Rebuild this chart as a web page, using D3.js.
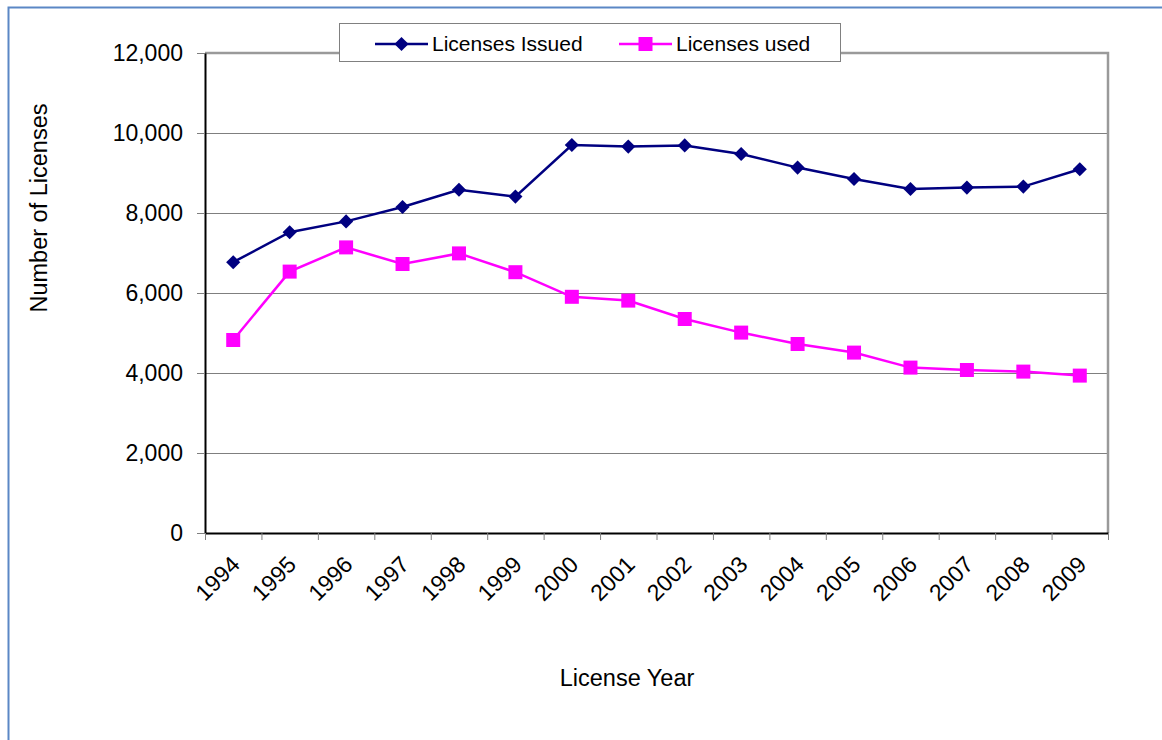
<!DOCTYPE html>
<html>
<head>
<meta charset="utf-8">
<script src="https://cdn.jsdelivr.net/npm/d3@7"></script>
<style>
  html, body { margin: 0; padding: 0; background: #fff; }
  svg { display: block; font-family: "Liberation Sans", Arial, sans-serif; }
</style>
</head>
<body>
<svg id="chart" width="1162" height="740"></svg>
<script>
// License years and counts
const years = ["1994","1995","1996","1997","1998","1999","2000","2001","2002","2003","2004","2005","2006","2007","2008","2009"];
const licensesIssued = [6770, 7520, 7790, 8150, 8580, 8410, 9700, 9660, 9690, 9475, 9135, 8850, 8600, 8635, 8660, 9095];
const licensesUsed   = [4825, 6535, 7140, 6725, 6990, 6520, 5905, 5810, 5350, 5010, 4725, 4510, 4135, 4075, 4035, 3935];
const yTicks = [0, 2000, 4000, 6000, 8000, 10000, 12000];
const seriesNames = ["Licenses Issued", "Licenses used"];

const svg = d3.select("#chart");
const plot = { left: 205, right: 1108, top: 53, bottom: 533 };

// Outer frame
svg.append("path")
  .attr("d", "M8.5,740 L8.5,7.5 L1162,7.5")
  .attr("fill", "none")
  .attr("stroke", "#5B87C5")
  .attr("stroke-width", 2);

const x = d3.scaleBand().domain(years).range([plot.left, plot.right]).padding(0);
const y = d3.scaleLinear().domain([0, 12000]).range([plot.bottom, plot.top]);
const xEdge = d3.scaleLinear().domain([0, years.length]).range([plot.left, plot.right]);
const cx = d => x(d) + x.bandwidth() / 2;

// Horizontal gridlines
svg.append("g").selectAll("line")
  .data(yTicks.filter(t => t > 0 && t < 12000))
  .join("line")
  .attr("x1", plot.left).attr("x2", plot.right)
  .attr("y1", d => Math.round(y(d)) + 0.5).attr("y2", d => Math.round(y(d)) + 0.5)
  .attr("stroke", "#7f7f7f").attr("stroke-width", 1);

// Plot area border (top and right)
svg.append("path")
  .attr("d", `M${plot.left},${plot.top} L${plot.right},${plot.top} L${plot.right},${plot.bottom}`)
  .attr("fill", "none")
  .attr("stroke", "#9a9a9a")
  .attr("stroke-width", 2.5);

// Y axis
const yAxis = svg.append("g")
  .attr("transform", `translate(${plot.left},0)`)
  .call(d3.axisLeft(y).tickValues(yTicks).tickFormat(d3.format(",")).tickSize(8).tickSizeOuter(0).tickPadding(14));
yAxis.select(".domain").attr("stroke", "#000").attr("stroke-width", 2);
yAxis.selectAll(".tick line").attr("stroke", "#7f7f7f");
yAxis.selectAll(".tick text").attr("font-size", 23).attr("fill", "#000").attr("font-family", "Liberation Sans, Arial, sans-serif");

// X axis: tick marks at category edges
const xAxisTicks = svg.append("g")
  .attr("transform", `translate(0,${plot.bottom})`)
  .call(d3.axisBottom(xEdge).tickValues(d3.range(years.length + 1)).tickFormat("").tickSize(7).tickSizeOuter(0));
xAxisTicks.select(".domain").attr("stroke", "#000").attr("stroke-width", 2);
xAxisTicks.selectAll(".tick line").attr("stroke", "#7f7f7f");

// X axis labels at category centers
const xLabels = svg.append("g")
  .attr("transform", `translate(0,${plot.bottom})`)
  .call(d3.axisBottom(x).tickSize(0).tickSizeOuter(0));
xLabels.select(".domain").remove();
xLabels.selectAll(".tick text")
  .attr("font-size", 23)
  .attr("fill", "#000")
  .attr("font-family", "Liberation Sans, Arial, sans-serif")
  .attr("text-anchor", "end")
  .attr("dy", null)
  .attr("y", 0)
  .attr("transform", "translate(8,33) rotate(-45)");

// Series lines and markers
const line = d3.line().x((d, i) => cx(years[i])).y(d => y(d));

svg.append("path").datum(licensesIssued)
  .attr("d", line).attr("fill", "none").attr("stroke", "#000080").attr("stroke-width", 2.5);
svg.append("path").datum(licensesUsed)
  .attr("d", line).attr("fill", "none").attr("stroke", "#FF00FF").attr("stroke-width", 2.5);

const diamond = d3.symbol().type(d3.symbolSquare).size(100);
svg.append("g").selectAll("path")
  .data(licensesIssued)
  .join("path")
  .attr("d", diamond)
  .attr("transform", (d, i) => `translate(${cx(years[i])},${y(d)}) rotate(45)`)
  .attr("fill", "#000080");

svg.append("g").selectAll("rect")
  .data(licensesUsed)
  .join("rect")
  .attr("x", (d, i) => cx(years[i]) - 7)
  .attr("y", d => y(d) - 7)
  .attr("width", 14).attr("height", 14)
  .attr("fill", "#FF00FF");

// Legend
const legend = svg.append("g");
legend.append("rect")
  .attr("x", 339.5).attr("y", 23.5).attr("width", 501).attr("height", 38)
  .attr("fill", "#fff").attr("stroke", "#808080").attr("stroke-width", 1);

const legendItems = [
  { name: seriesNames[0], color: "#000080", shape: "diamond", x: 375 },
  { name: seriesNames[1], color: "#FF00FF", shape: "square", x: 619 }
];
legendItems.forEach(it => {
  legend.append("line")
    .attr("x1", it.x).attr("x2", it.x + 53).attr("y1", 44).attr("y2", 44)
    .attr("stroke", it.color).attr("stroke-width", 2.5);
  if (it.shape === "diamond") {
    legend.append("path").attr("d", diamond)
      .attr("transform", `translate(${it.x + 26.5},44) rotate(45)`)
      .attr("fill", it.color);
  } else {
    legend.append("rect")
      .attr("x", it.x + 26.5 - 7).attr("y", 37).attr("width", 14).attr("height", 14)
      .attr("fill", it.color);
  }
  legend.append("text")
    .attr("x", it.x + 57).attr("y", 51)
    .attr("font-size", 21).attr("fill", "#000")
    .text(it.name);
});

// Axis titles
svg.append("text")
  .attr("transform", "translate(47,208) rotate(-90)")
  .attr("text-anchor", "middle")
  .attr("font-size", 23.5).attr("fill", "#000")
  .text("Number of Licenses");

svg.append("text")
  .attr("x", 627).attr("y", 686)
  .attr("text-anchor", "middle")
  .attr("font-size", 23.5).attr("fill", "#000")
  .text("License Year");
</script>
</body>
</html>
